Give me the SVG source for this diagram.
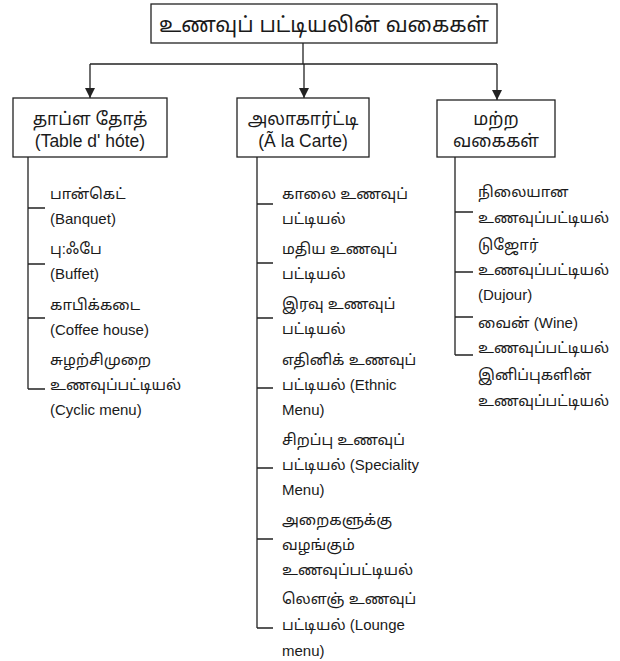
<svg xmlns="http://www.w3.org/2000/svg" width="620" height="661" viewBox="0 0 620 661">
<defs>
<style>
.box{fill:#fff;stroke:#222;stroke-width:1.3}
.ln{fill:none;stroke:#222;stroke-width:1.3}
text{font-family:"Liberation Sans","Noto Sans Tamil","Lohit Tamil","Noto Sans",sans-serif;fill:#1a1a1a}
.t{font-size:21px;text-anchor:middle}
.h{font-size:17.5px;text-anchor:middle}
.i{font-size:15px}
</style>
<marker id="ah" viewBox="0 0 10 10" refX="10" refY="5" markerWidth="10" markerHeight="10" markerUnits="userSpaceOnUse" orient="auto">
<path d="M0,0 L10,5 L0,10 z" fill="#222"/>
</marker>
</defs>
<rect width="620" height="661" fill="#fff"/>
<g id="connectors">
<path class="ln" d="M303,43 V64"/>
<path class="ln" d="M90,64 H497"/>
<path class="ln" d="M90,64 V98" marker-end="url(#ah)"/>
<path class="ln" d="M304,64 V98" marker-end="url(#ah)"/>
<path class="ln" d="M497,64 V100" marker-end="url(#ah)"/>
<path class="ln" d="M28,157 V389 M28,208 H45 M28,264 H45 M28,318 H45 M28,389 H45"/>
<path class="ln" d="M257,157 V628 M257,204 H273 M257,263 H273 M257,318 H273 M257,388 H273 M257,468 H273 M257,539 H273 M257,628 H273"/>
<path class="ln" d="M455,157 V355 M455,212 H473 M455,272 H473 M455,317 H473 M455,355 H473"/>
</g>
<g id="title">
<rect class="box" x="151" y="4" width="346" height="39"/>
<text class="t" x="324" y="32">உணவுப் பட்டியலின் வகைகள்</text>
</g>
<g id="table-dhote">
<rect class="box" x="13" y="98" width="154" height="59"/>
<text class="h" x="90" y="125">தாப்ள தோத்</text>
<text class="h" x="90" y="147">(Table d' hóte)</text>
</g>
<g id="a-la-carte">
<rect class="box" x="237" y="98" width="132" height="59"/>
<text class="h" x="303" y="125">அலாகார்ட்டி</text>
<text class="h" x="303" y="147">(Ã  la Carte)</text>
</g>
<g id="other">
<rect class="box" x="437" y="100" width="118" height="57"/>
<text class="h" x="496" y="125">மற்ற</text>
<text class="h" x="496" y="147">வகைகள்</text>
</g>
<g id="left-items">
<text class="i" x="50" y="199">பான்கெட்</text>
<text class="i" x="50" y="224">(Banquet)</text>
<text class="i" x="50" y="254">பு:ஃபே</text>
<text class="i" x="50" y="279">(Buffet)</text>
<text class="i" x="50" y="310">காபிக்கடை</text>
<text class="i" x="50" y="335">(Coffee house)</text>
<text class="i" x="50" y="365">சுழற்சிமுறை</text>
<text class="i" x="50" y="390">உணவுப்பட்டியல்</text>
<text class="i" x="50" y="415">(Cyclic menu)</text>
</g>
<g id="middle-items">
<text class="i" x="282" y="199">காலை உணவுப்</text>
<text class="i" x="282" y="224">பட்டியல்</text>
<text class="i" x="282" y="254">மதிய உணவுப்</text>
<text class="i" x="282" y="279">பட்டியல்</text>
<text class="i" x="282" y="309">இரவு உணவுப்</text>
<text class="i" x="282" y="334">பட்டியல்</text>
<text class="i" x="282" y="365">எதினிக் உணவுப்</text>
<text class="i" x="282" y="390">பட்டியல் (Ethnic</text>
<text class="i" x="282" y="415">Menu)</text>
<text class="i" x="282" y="445">சிறப்பு உணவுப்</text>
<text class="i" x="282" y="470">பட்டியல் (Speciality</text>
<text class="i" x="282" y="495">Menu)</text>
<text class="i" x="282" y="525">அறைகளுக்கு</text>
<text class="i" x="282" y="550">வழங்கும்</text>
<text class="i" x="282" y="575">உணவுப்பட்டியல்</text>
<text class="i" x="282" y="604">லௌஞ் உணவுப்</text>
<text class="i" x="282" y="630">பட்டியல் (Lounge</text>
<text class="i" x="282" y="656">menu)</text>
</g>
<g id="right-items">
<text class="i" x="478" y="197">நிலையான</text>
<text class="i" x="478" y="223">உணவுப்பட்டியல்</text>
<text class="i" x="478" y="250">டுஜோர்</text>
<text class="i" x="478" y="275">உணவுப்பட்டியல்</text>
<text class="i" x="478" y="300">(Dujour)</text>
<text class="i" x="478" y="328">வைன் (Wine)</text>
<text class="i" x="478" y="353">உணவுப்பட்டியல்</text>
<text class="i" x="478" y="380">இனிப்புகளின்</text>
<text class="i" x="478" y="406">உணவுப்பட்டியல்</text>
</g>
</svg>
